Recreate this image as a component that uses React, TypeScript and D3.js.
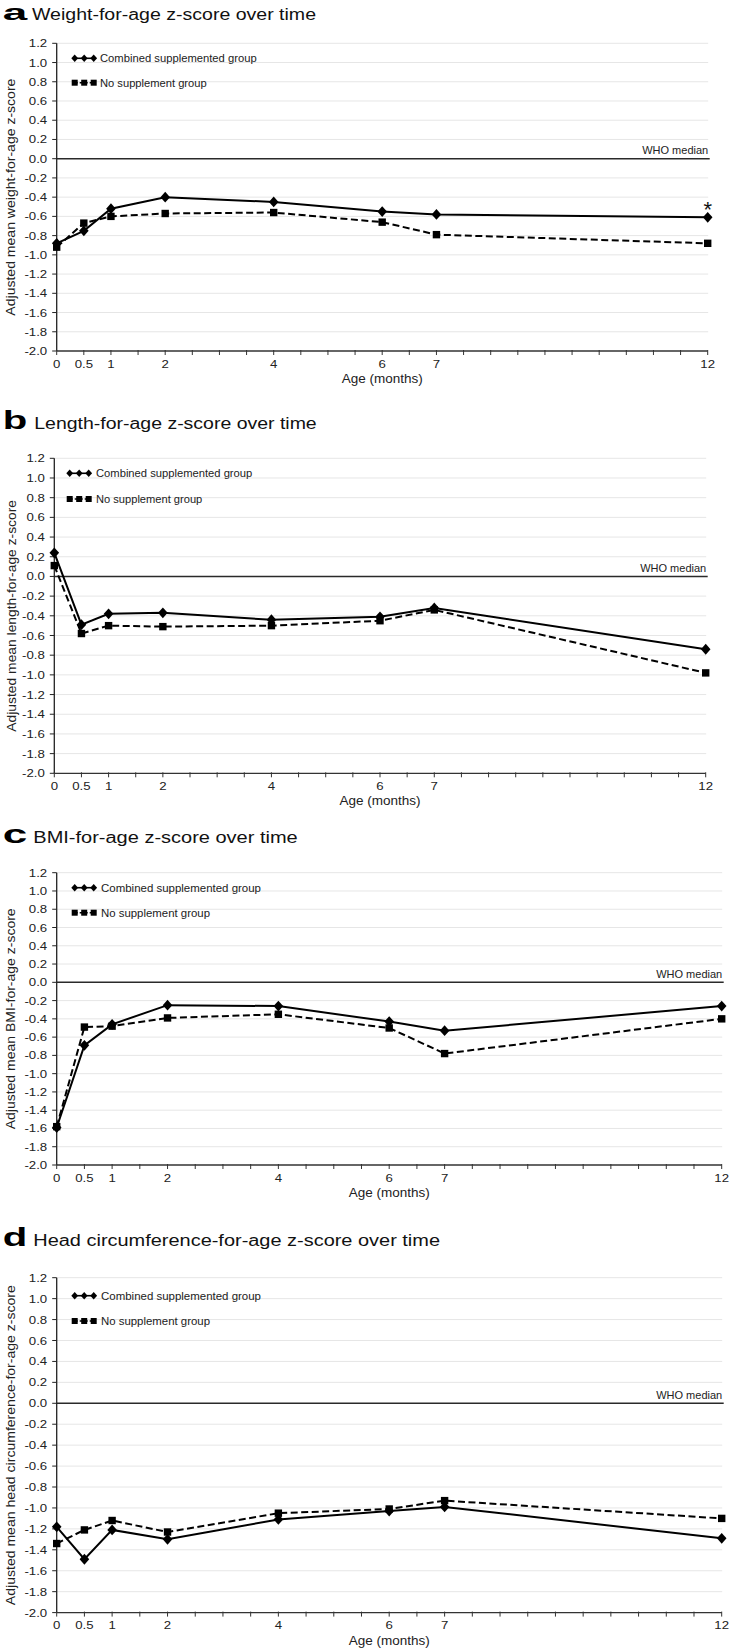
import React from "react";
import * as d3 from "d3";

// ---- data ----
const ages = [0, 0.5, 1, 2, 4, 6, 7, 12];
const xTickLabels = [0, 0.5, 1, 2, 4, 6, 7, 12];

const weightCombined = [-0.88, -0.75, -0.52, -0.4, -0.45, -0.55, -0.58, -0.61];
const weightNone = [-0.92, -0.67, -0.6, -0.57, -0.56, -0.66, -0.79, -0.88];
const lengthCombined = [0.24, -0.49, -0.38, -0.37, -0.44, -0.41, -0.32, -0.74];
const lengthNone = [0.11, -0.58, -0.5, -0.51, -0.5, -0.45, -0.34, -0.98];
const bmiCombined = [-1.59, -0.69, -0.46, -0.25, -0.26, -0.43, -0.53, -0.26];
const bmiNone = [-1.58, -0.49, -0.48, -0.39, -0.35, -0.5, -0.78, -0.4];
const headCombined = [-1.18, -1.49, -1.21, -1.3, -1.11, -1.03, -0.99, -1.29];
const headNone = [-1.34, -1.21, -1.12, -1.23, -1.05, -1.01, -0.93, -1.1];

const panelLetters = ["a", "b", "c", "d"];
const panelTitles = [
  "Weight-for-age z-score over time",
  "Length-for-age z-score over time",
  "BMI-for-age z-score over time",
  "Head circumference-for-age z-score over time",
];
const yTitles = [
  "Adjusted mean weight-for-age z-score",
  "Adjusted mean length-for-age z-score",
  "Adjusted mean BMI-for-age z-score",
  "Adjusted mean head circumference-for-age z-score",
];
const combinedSeries = [weightCombined, lengthCombined, bmiCombined, headCombined];
const noneSeries = [weightNone, lengthNone, bmiNone, headNone];
const starFlags = [true, false, false, false];
const legendLabels = ["Combined supplemented group", "No supplement group"];
const medianLabel = "WHO median";
const xAxisTitle = "Age (months)";

// ---- layout ----
const layouts = [
  { left: 56.7, right: 707.7, top: 43.3, bottom: 351, titleY: 20, letterSize: 21.5, titleX: 32, titleLen: 284, yTitleX: 14.5, yTitleLen: 237, legX: 71.7, legY1: 58.3, legY2: 82.7, legTX: 100, legLen1: 156.7, legLen2: 106.7 },
  { left: 54.3, right: 705.7, top: 458.3, bottom: 773.3, titleY: 429.3, letterSize: 26.5, titleX: 34.3, titleLen: 282.4, yTitleX: 16, yTitleLen: 231.7, legX: 66.7, legY1: 473.3, legY2: 499, legTX: 96, legLen1: 156.3, legLen2: 106.3 },
  { left: 56.7, right: 721.7, top: 872.7, bottom: 1165, titleY: 843.3, letterSize: 26.5, titleX: 33.3, titleLen: 264.4, yTitleX: 15, yTitleLen: 221, legX: 71.7, legY1: 887.7, legY2: 912.7, legTX: 101, legLen1: 160, legLen2: 109 },
  { left: 56.7, right: 721.7, top: 1277.7, bottom: 1612.6, titleY: 1246, letterSize: 26.5, titleX: 33.3, titleLen: 406.7, yTitleX: 15, yTitleLen: 320, legX: 71.7, legY1: 1295.7, legY2: 1321, legTX: 101, legLen1: 160, legLen2: 109 },
];

const FONT = "'Liberation Sans', Arial, Helvetica, sans-serif";

function diamondPath(cx: number, cy: number, hw = 4.8, hh = 5.4) {
  return `M${cx},${cy - hh}L${cx + hw},${cy}L${cx},${cy + hh}L${cx - hw},${cy}Z`;
}

function fmt(v: number) {
  const r = Math.round(v * 10) / 10;
  const s = Math.abs(r).toFixed(1);
  return r < 0 ? "-" + s : s;
}

function Panel({ i }: { i: number }) {
  const L = layouts[i];
  const x = d3.scaleLinear().domain([0, 12]).range([L.left, L.right]);
  const y = d3.scaleLinear().domain([-2, 1.2]).range([L.bottom, L.top]);
  const yTicks = d3.range(-10, 7).map((k) => k * 0.2);
  const gridVals = d3.range(-9, 7).map((k) => k * 0.2).filter((v) => Math.abs(v) > 1e-9);
  const xTicks = d3.range(0, 25).map((k) => k * 0.5);
  const comb = combinedSeries[i];
  const none = noneSeries[i];
  const line = d3
    .line<number>()
    .x((_, j) => x(ages[j]))
    .y((d) => y(d));
  const midY = (L.top + L.bottom) / 2;
  const lx = [L.legX + 3, L.legX + 12.5, L.legX + 22];
  return (
    <g>
      {/* title */}
      <text x={2.7} y={L.titleY} fontFamily={FONT} fontWeight="bold" fontSize={L.letterSize} textLength={24.5} lengthAdjust="spacingAndGlyphs">
        {panelLetters[i]}
      </text>
      <text x={L.titleX} y={L.titleY} fontFamily={FONT} fontSize={16} textLength={L.titleLen} lengthAdjust="spacingAndGlyphs" fill="#111">
        {panelTitles[i]}
      </text>
      {/* gridlines */}
      {gridVals.map((v) => (
        <line key={"g" + v} x1={L.left} x2={L.right + 0.5} y1={y(v)} y2={y(v)} stroke="#e6e6e6" strokeWidth={1} />
      ))}
      {/* zero line */}
      <line x1={L.left} x2={L.right + 2} y1={y(0)} y2={y(0)} stroke="#2a2a2a" strokeWidth={1.4} />
      <text x={L.right + 0.5} y={y(0) - 4.5} fontFamily={FONT} fontSize={11} textAnchor="end" fill="#222">
        {medianLabel}
      </text>
      {/* axes */}
      <line x1={L.left} x2={L.left} y1={L.top} y2={L.bottom} stroke="#222" strokeWidth={1.3} />
      <line x1={L.left} x2={L.right} y1={L.bottom} y2={L.bottom} stroke="#333" strokeWidth={1.3} />
      {yTicks.map((v) => (
        <g key={"yt" + v}>
          <line x1={L.left - 4.5} x2={L.left} y1={y(v)} y2={y(v)} stroke="#222" strokeWidth={1} />
          <text transform={`translate(${L.left - 9.5},${y(v)}) scale(1.15,1)`} dy="0.35em" fontFamily={FONT} fontSize={11.5} textAnchor="end" fill="#222">
            {fmt(v)}
          </text>
        </g>
      ))}
      {xTicks.map((v) => (
        <line key={"xt" + v} x1={x(v)} x2={x(v)} y1={L.bottom - 1} y2={L.bottom + 4} stroke="#333" strokeWidth={1} />
      ))}
      {xTickLabels.map((v) => (
        <text key={"xl" + v} transform={`translate(${x(v)},${L.bottom + 16.5}) scale(1.15,1)`} fontFamily={FONT} fontSize={11.5} textAnchor="middle" fill="#222">
          {String(v)}
        </text>
      ))}
      <text x={(L.left + L.right) / 2} y={L.bottom + 32} fontFamily={FONT} fontSize={13.5} textAnchor="middle" fill="#222">
        {xAxisTitle}
      </text>
      {/* y title */}
      <text transform={`translate(${L.yTitleX},${midY}) rotate(-90)`} fontFamily={FONT} fontSize={13.5} textAnchor="middle" textLength={L.yTitleLen} lengthAdjust="spacingAndGlyphs" fill="#222">
        {yTitles[i]}
      </text>
      {/* legend */}
      <line x1={lx[0]} x2={lx[2]} y1={L.legY1} y2={L.legY1} stroke="#000" strokeWidth={1.6} />
      {lx.map((cx, k) => (
        <path key={"ld" + k} d={diamondPath(cx, L.legY1, 3.4, 3.8)} fill="#000" />
      ))}
      <text x={L.legTX} y={L.legY1} dy="0.35em" fontFamily={FONT} fontSize={11} textLength={L.legLen1} lengthAdjust="spacingAndGlyphs" fill="#222">
        {legendLabels[0]}
      </text>
      <line x1={lx[0]} x2={lx[2]} y1={L.legY2} y2={L.legY2} stroke="#000" strokeWidth={1.6} strokeDasharray="3,2" />
      {lx.map((cx, k) => (
        <rect key={"ls" + k} x={cx - 3} y={L.legY2 - 3} width={6} height={6} fill="#000" />
      ))}
      <text x={L.legTX} y={L.legY2} dy="0.35em" fontFamily={FONT} fontSize={11} textLength={L.legLen2} lengthAdjust="spacingAndGlyphs" fill="#222">
        {legendLabels[1]}
      </text>
      {/* series */}
      <path d={line(none) || ""} fill="none" stroke="#000" strokeWidth={2} strokeDasharray="7,3.5" />
      <path d={line(comb) || ""} fill="none" stroke="#000" strokeWidth={2} />
      {none.map((v, j) => (
        <rect key={"s" + j} x={x(ages[j]) - 3.7} y={y(v) - 3.7} width={7.4} height={7.4} fill="#000" />
      ))}
      {comb.map((v, j) => (
        <path key={"d" + j} d={diamondPath(x(ages[j]), y(v))} fill="#000" />
      ))}
      {starFlags[i] && (
        <text x={x(12)} y={y(comb[comb.length - 1]) - 0.5} fontFamily={FONT} fontSize={22} textAnchor="middle" fill="#111">
          *
        </text>
      )}
    </g>
  );
}

export default function App() {
  return (
    <svg width={730} height={1652} style={{ position: "absolute", left: 0, top: 0, background: "#fff" }}>
      <rect x={0} y={0} width={730} height={1652} fill="#fff" />
      {layouts.map((_, i) => (
        <Panel key={i} i={i} />
      ))}
    </svg>
  );
}
